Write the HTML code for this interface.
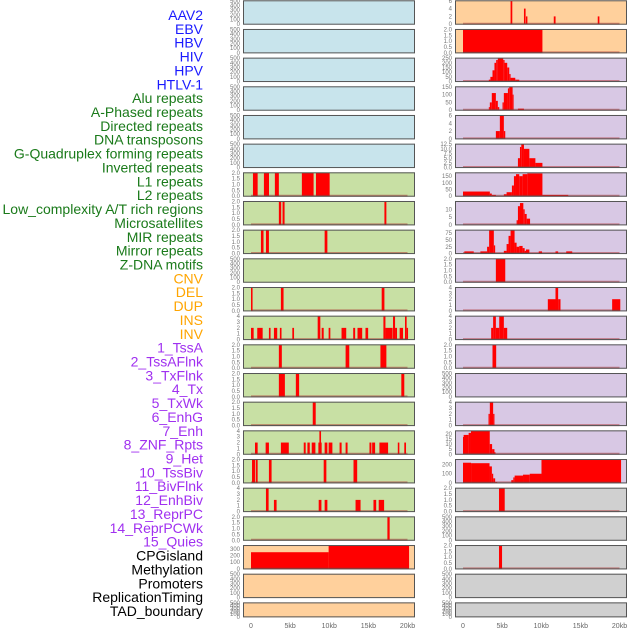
<!DOCTYPE html>
<html><head><meta charset="utf-8"><style>
html,body{margin:0;padding:0;background:#fff;}
svg{display:block;font-family:"Liberation Sans",sans-serif;}
</style></head><body>
<svg id="chart" width="630" height="630" viewBox="0 0 630 630"></svg>
<script>
const labels=["AAV2","EBV","HBV","HIV","HPV","HTLV-1","Alu repeats","A-Phased repeats","Directed repeats","DNA transposons","G-Quadruplex forming repeats","Inverted repeats","L1 repeats","L2 repeats","Low_complexity A/T rich regions","Microsatellites","MIR repeats","Mirror repeats","Z-DNA motifs","CNV","DEL","DUP","INS","INV","1_TssA","2_TssAFlnk","3_TxFlnk","4_Tx","5_TxWk","6_EnhG","7_Enh","8_ZNF_Rpts","9_Het","10_TssBiv","11_BivFlnk","12_EnhBiv","13_ReprPC","14_ReprPCWk","15_Quies","CPGisland","Methylation","Promoters","ReplicationTiming","TAD_boundary"];
const groups=["virus","virus","virus","virus","virus","virus","repeat","repeat","repeat","repeat","repeat","repeat","repeat","repeat","repeat","repeat","repeat","repeat","repeat","sv","sv","sv","sv","sv","chrom","chrom","chrom","chrom","chrom","chrom","chrom","chrom","chrom","chrom","chrom","chrom","chrom","chrom","chrom","other","other","other","other","other"];
const yMax=[500,500,500,500,500,500,2,2,2,500,2,4,2,2,2,4,2,4,2,350,500,500,6,2,250,150,6,12.5,175,15,86,2,4,4,2,500,4,23,255,2,500,2,500,500];
const tickLabels=[
"0,100,200,300,400,500","0,100,200,300,400,500","0,100,200,300,400,500","0,100,200,300,400,500","0,100,200,300,400,500","0,100,200,300,400,500",
"0.0,0.5,1.0,1.5,2.0","0.0,0.5,1.0,1.5,2.0","0.0,0.5,1.0,1.5,2.0","0,100,200,300,400,500","0.0,0.5,1.0,1.5,2.0","0,1,2,3,4","0.0,0.5,1.0,1.5,2.0","0.0,0.5,1.0,1.5,2.0","0.0,0.5,1.0,1.5,2.0","0,1,2,3,4","0.0,0.5,1.0,1.5,2.0","0,1,2,3,4","0.0,0.5,1.0,1.5,2.0","0,100,200,300","0,100,200,300,400,500","0,100,200,300,400,500",
"0,2,4,6","0.0,0.5,1.0,1.5,2.0","0,50,100,150,200,250","0,50,100,150","0,2,4,6","0.0,2.5,5.0,7.5,10.0,12.5","0,50,100,150","0,5,10","0,25,50,75","0.0,0.5,1.0,1.5,2.0","0,1,2,3,4","0,1,2,3,4","0.0,0.5,1.0,1.5,2.0","0,100,200,300,400,500","0,1,2,3,4","0,5,10,15,20","0,100,200","0.0,0.5,1.0,1.5,2.0","0,100,200,300,400,500","0.0,0.5,1.0,1.5,2.0","0,100,200,300,400,500","0,100,200,300,400,500"];
// segments per track: "startKb-endKb:value" separated by ;
const segments=[
"","","","","","",
"0.25-0.85:2;1.65-2.3:2;3.05-3.56:2;6.5-8.0:2;8.3-10.05:2",
"3.56-3.86:2;4.03-4.29:2;17.05-17.3:2",
"1.27-1.6:2;1.91-2.29:2;9.41-9.76:2",
"",
"0-0.2:2;3.82-4.16:2;16.7-17.05:2",
"0-0.34:2;0.8-1.49:2;2.29-2.5:2;2.93-3.35:2;3.69-3.9:2;5.28-5.5:2;8.52-8.86:4;9.03-9.29:2;9.92-10.14:2;11.57-12.17:2;13.06-13.31:2;13.61-14.21:2;14.63-14.97:2;16.92-17.18:4;17.18-18.1:2;18.15-18.41:4;18.41-18.66:2;19.0-19.43:2;19.68-19.89:4;19.89-20.07:2",
"3.56-3.94:2;12.09-12.56:2;16.54-17.3:2",
"3.56-4.33:2;5.73-6.15:2;19.21-19.59:2",
"7.89-8.27:2",
"0.51-0.85:2;1.87-2.29:2;3.82-4.83:2;6.74-6.99:2;7.21-7.51:2;7.76-8.23:2;8.61-9.03:2;8.74-8.95:4;9.41-9.76:2;9.92-10.4:2;11.32-11.58:2;12.09-12.34:2;15.14-15.39:2;15.48-15.86:2;16.41-17.52:2;18.76-18.96:2;19.59-19.81:2",
"0.13-0.51:2;0.6-0.85:2;2.29-2.63:2;9.29-9.63:2;13.1-13.57:2",
"1.91-2.25:4;2.93-3.27:2;8.65-9.0:2;9.41-9.76:2;13.36-14.0:2;15.65-16.0:2;16.32-17.01:2",
"17.43-17.72:2",
"0-9.92:250;9.92-20.2:350",
"","",
"6.08-6.3:6;7.79-8.0:4;8.05-8.23:2;11.6-11.83:2;17.22-17.43:2",
"0-10.15:2",
"3.3-3.5:20;3.5-3.77:50;3.77-4.02:120;4.02-4.24:200;4.24-4.45:230;4.45-5.14:250;5.14-5.31:230;5.31-5.65:200;5.65-5.91:150;5.91-6.08:80;6.08-6.68:40;6.68-7.19:20",
"3.3-3.43:20;3.43-3.68:50;3.68-4.2:110;4.2-4.45:60;4.45-4.63:20;5.05-5.22:50;5.22-5.74:110;5.74-5.91:140;5.91-6.34:150;6.34-6.42:100;7.02-7.79:10",
"4.2-4.71:2;4.71-5.22:6;5.22-5.4:2",
"7.02-7.28:5;7.28-7.45:11;7.45-7.79:12.5;7.79-8.48:10;8.48-9.25:5;9.25-10.15:2.5",
"0-3.43:35;3.43-3.68:20;3.68-4.2:10;5.22-5.57:15;5.57-6.25:30;6.25-6.51:80;6.51-6.77:150;6.77-7.19:165;7.19-7.62:150;7.62-8.22:165;8.22-10.15:170;10.15-13.45:10",
"6.85-7.02:3;7.02-7.28:12;7.28-7.71:14;7.71-7.88:10;7.88-8.14:7;8.14-8.57:4",
"0.17-1.37:8;2.22-3.08:8;3.08-3.34:25;3.34-3.94:86;3.94-4.11:30;5.22-5.57:10;5.57-5.82:35;5.82-6.08:65;6.08-6.59:86;6.59-6.85:40;6.85-7.19:25;7.19-7.62:28;7.62-7.88:20;7.88-8.05:10;8.05-8.48:15;9.68-10.1:8;11.82-12.16:8;13.19-13.96:8",
"4.2-5.4:2",
"10.84-11.82:2;11.82-12.16:4;12.16-12.46:2;19.06-20.1:2",
"3.6-3.85:2;3.85-4.2:4;4.2-4.63:2;4.63-5.22:4;5.22-5.65:2",
"3.77-4.24:2",
"",
"3.26-3.43:2;3.43-3.85:4;3.85-4.02:2",
"0-0.08:17;0.08-0.72:19;0.72-1.02:21;1.02-3.42:23;3.42-3.72:10;3.72-4.02:5;4.02-4.15:2",
"0-1.03:220;1.03-3.39:215;3.39-3.69:180;3.69-3.86:100;3.86-4.11:50;4.11-4.37:10;6.17-6.43:30;6.43-6.6:60;6.6-7.67:80;7.67-8.53:90;8.53-10.03:100;10.03-20.2:255",
"4.6-5.33:2",
"",
"4.6-4.99:2",
"",""];
const xTicks=[0,5,10,15,20];
const xTickLabels=["0","5kb","10kb","15kb","20kb"];

const NS="http://www.w3.org/2000/svg";
const svg=document.getElementById('chart');
function mk(tag,attrs,parent){const e=document.createElementNS(NS,tag);for(const k in attrs)e.setAttribute(k,attrs[k]);(parent||svg).appendChild(e);return e;}
const bgColor={virus:"#c8e4ec",repeat:"#c8e0a4",sv:"#ffd09c",chrom:"#d8c8e4",other:"#d0d0d0"};
const labColor={virus:"#1a1aff",repeat:"#1a7a1a",sv:"#ffa500",chrom:"#a030f0",other:"#000"};
const colBoxX=[243,455],boxW=172,dataOff=8,dataW=156.5;
function xScale(col,kb){return colBoxX[col]+dataOff+kb/20*dataW;}
function panelTop(row){return 0.3+28.67*row;}
function panelH(row){return row===21?15:24.4;}
function yScale(i,v){const row=i%22;const t=panelTop(row),h=panelH(row);return t+h-0.5-(v/yMax[i])*(h-1);}

labels.forEach((l,i)=>{
  const t=mk('text',{x:203,y:15+i*13.86+5,'text-anchor':'end','font-size':'14',fill:labColor[groups[i]]});
  t.textContent=l;
  
  
});

labels.forEach((l,i)=>{
  const col=Math.floor(i/22),row=i%22;
  const g=mk('g',{});
  
  
  const t=panelTop(row),h=panelH(row);
  const bg=mk('rect',{x:colBoxX[col],y:t,width:boxW,height:h,fill:bgColor[groups[i]]},g);
  
  
  const segs=segments[i]?segments[i].split(';'):[];
  segs.forEach(s=>{
    const [r,v]=s.split(':');const [a,b]=r.split('-').map(Number);const val=Number(v);
    const x0=xScale(col,a),x1=xScale(col,b),y0=yScale(i,val),yb=yScale(i,0);
    const rc=mk('rect',{x:x0,y:y0,width:Math.max(1,x1-x0),height:yb-y0,fill:"#ff0000"},g);
    
    
  });
  if(segs.length){
    const bl=mk('line',{x1:xScale(col,0),x2:xScale(col,20),y1:yScale(i,0)-0.5,y2:yScale(i,0)-0.5,stroke:"rgba(170,40,40,0.5)","stroke-width":2},g);
    
    
  }
  const bd=mk('rect',{x:colBoxX[col]+0.5,y:t+0.5,width:boxW-1,height:h-1,fill:"none",stroke:"#555","stroke-width":1},g);
  
  
  const tk=tickLabels[i].split(',');
  tk.forEach(s=>{
    const v=Number(s);
    const tx=mk('text',{x:colBoxX[col]-3,y:yScale(i,v)+2,'text-anchor':'end','font-size':'6',fill:"#777"},g);
    tx.textContent=s;
    
    
  });
});

[0,1].forEach(col=>{
  xTicks.forEach((k,j)=>{
    const tx=mk('text',{x:xScale(col,k),y:628,'text-anchor':'middle','font-size':'7',fill:"#666"});
    tx.textContent=xTickLabels[j];
    
    
  });
});
</script>
</body></html>
